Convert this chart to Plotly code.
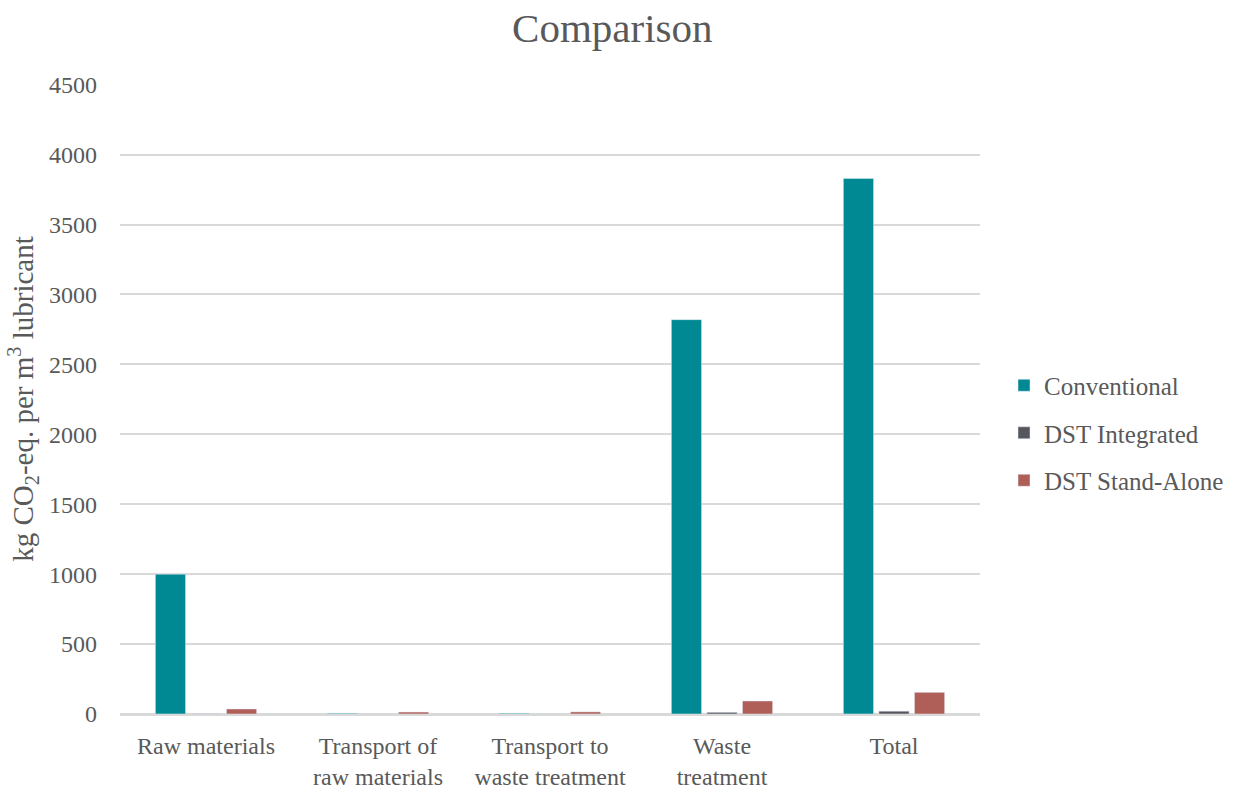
import plotly.graph_objects as go

categories = ["Raw materials", "Transport of<br>raw materials", "Transport to<br>waste treatment",
              "Waste<br>treatment", "Total"]
conventional = [1000, 5, 5, 2820, 3830]
dst_integrated = [2, 1, 1, 12, 20]
dst_standalone = [36, 14, 15, 93, 155]

font_family = "Liberation Serif, DejaVu Serif, serif"
text_color = "#595959"

fig = go.Figure()
fig.add_bar(name="Conventional", x=categories, y=conventional, marker_color="#008993",
            legendgroup="a")
fig.add_bar(name="DST Integrated", x=categories, y=dst_integrated, marker_color="#56565e",
            legendgroup="b")
fig.add_bar(name="DST Stand-Alone", x=categories, y=dst_standalone, marker_color="#b05f58",
            legendgroup="c")

fig.update_layout(
    width=1242, height=791,
    margin=dict(l=120, r=262, t=84, b=77, autoexpand=False),
    paper_bgcolor="white", plot_bgcolor="white",
    font=dict(family=font_family, color=text_color, size=24),
    title=dict(text="Comparison", xref="container", x=0.493, xanchor="center",
               yref="container", y=0.965, yanchor="middle",
               font=dict(size=41, color=text_color)),
    barmode="group", bargap=0.38, bargroupgap=0.15,
    legend=dict(xref="container", x=1004 / 1242, xanchor="left",
                y=0.446, yanchor="middle",
                font=dict(size=25, color=text_color), traceorder="grouped",
                tracegroupgap=12, itemwidth=30),
    showlegend=True,
)
fig.update_xaxes(showline=True, linecolor="#d9d9d9", linewidth=1.5, ticks="", automargin=False,
                 ticklabelstandoff=9, tickfont=dict(size=24, color=text_color))
fig.update_yaxes(range=[0, 4505], dtick=500, showgrid=True, gridcolor="#d9d9d9", gridwidth=1.5,
                 zeroline=True, zerolinecolor="#d9d9d9", zerolinewidth=1.5, automargin=False,
                 tickfont=dict(size=24, color=text_color), ticklabelstandoff=22,
                 title=dict(text="kg CO<sub>2</sub>-eq. per m<sup>3</sup> lubricant",
                            font=dict(size=29, color=text_color), standoff=6))

fig.write_html("out.html")
